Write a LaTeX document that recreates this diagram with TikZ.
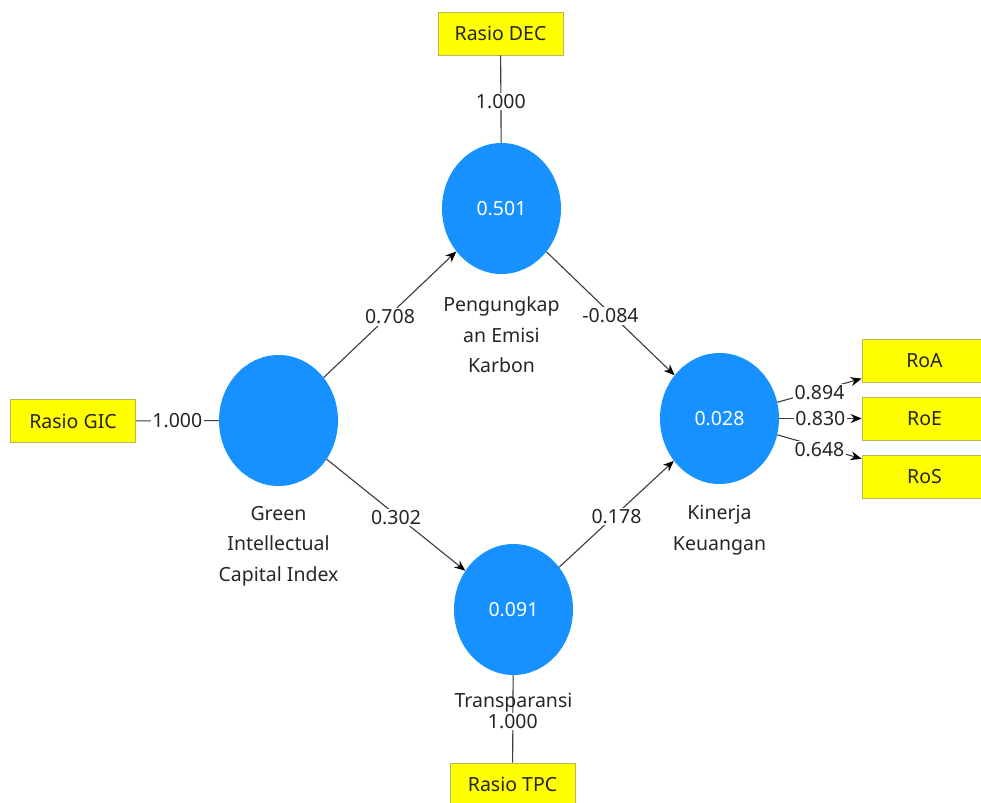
\documentclass[tikz,border=0pt]{standalone}
\usepackage{fontspec}
\setmainfont{Noto Sans}
\usetikzlibrary{positioning,shapes.geometric,arrows.meta}
\definecolor{lvblue}{RGB}{22,145,255}
\definecolor{indyellow}{RGB}{255,255,0}
\definecolor{indborder}{RGB}{185,185,90}
\definecolor{linegray}{RGB}{60,60,60}
\begin{document}
\begin{tikzpicture}[x=1pt,y=-1pt,
  latent/.style={ellipse,fill=lvblue,minimum width=119pt,minimum height=131pt,inner sep=0pt,text=white,font=\fontsize{19.5}{23}\selectfont},
  indicator/.style={rectangle,fill=indyellow,draw=indborder,line width=0.8pt,minimum width=125pt,minimum height=43pt,inner sep=0pt,text=black!85,font=\fontsize{19.5}{23}\selectfont},
  lvname/.style={align=center,text=black!85,font=\fontsize{19.5}{30.5}\selectfont},
  coef/.style={fill=white,inner sep=1.5pt,yshift=-2.5pt,text=black!85,font=\fontsize{19.5}{23}\selectfont},
  inner/.style={draw=linegray,line width=1.1pt,-{Stealth[length=11pt,width=9pt,black]}},
  outer/.style={draw=linegray,line width=1.1pt}]
\clip (0,0) rectangle (981,802);
%
\node[latent] (GIC) at (278.5,420.5) {};
\node[latent] (PEK) at (501.5,208.5) {0.501};
\node[latent] (KK) at (719.5,418.5) {0.028};
\node[latent] (TP) at (513.5,609.5) {0.091};
%
\node[indicator] (DEC) at (500.5,33.5) {Rasio DEC};
\node[indicator] (RGIC) at (73,421) {Rasio GIC};
\node[indicator] (TPC) at (512.5,784.5) {Rasio TPC};
\node[indicator] (RoA) at (924.5,361) {RoA};
\node[indicator] (RoE) at (924.5,418.5) {RoE};
\node[indicator] (RoS) at (924.5,476.5) {RoS};
%
\draw[outer] (DEC) -- node[coef] {1.000} (PEK);
\draw[outer] (RGIC) -- node[coef,yshift=2.5pt] {1.000} (GIC);
\draw[outer] (TP) -- node[coef] {1.000} (TPC);
\draw[outer,-{Stealth[length=11pt,width=9pt,black]}] (KK) -- node[coef] {0.894} (RoA);
\draw[outer,-{Stealth[length=11pt,width=9pt,black]}] (KK) -- node[coef,yshift=2.5pt] {0.830} (RoE);
\draw[outer,-{Stealth[length=11pt,width=9pt,black]}] (KK) -- node[coef] {0.648} (RoS);
%
\draw[inner] (GIC) -- node[coef] {0.708} (PEK);
\draw[inner] (GIC) -- node[coef] {0.302} (TP);
\draw[inner] (PEK) -- node[coef] {-0.084} (KK);
\draw[inner] (TP) -- node[coef] {0.178} (KK);
%
\node[lvname] (nPEK) at (501.5,335) {Pengungkap\\an Emisi\\Karbon};
\node[lvname] (nGIC) at (278.5,546) {Green\\Intellectual\\Capital Index};
\node[lvname] (nKK) at (719.5,530) {Kinerja\\Keuangan};
\node[lvname] (nTP) at (513.5,703) {Transparansi};
\end{tikzpicture}
\end{document}
